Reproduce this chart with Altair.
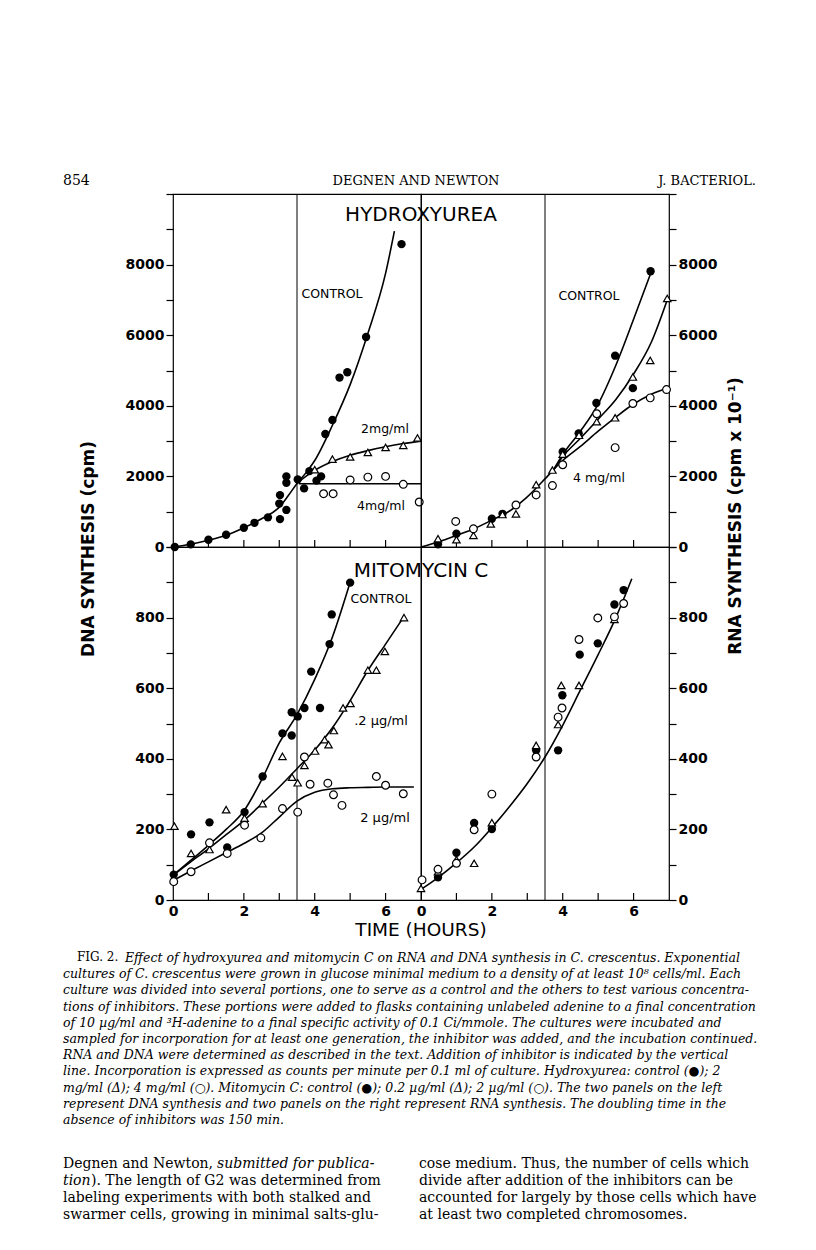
import altair as alt
import pandas as pd

# ---------------- data ----------------
tick_hours = [1, 2, 3, 4, 5, 6]
inhibitor_added = [3.5]
x_label_values = [0, 2, 4, 6]
top_axis_values = [0, 1000, 2000, 3000, 4000, 5000, 6000, 7000, 8000, 9000, 10000]
bottom_axis_values = [0, 100, 200, 300, 400, 500, 600, 700, 800, 900, 1000]

# Hydroxyurea, DNA synthesis (top left)
hu_dna_ctrl_t = [0.05, 0.5, 1.0, 1.5, 2.0, 2.3, 2.68, 3.02, 3.0, 3.02, 3.2, 3.2, 3.2, 3.52, 3.7, 3.85, 4.05, 4.18, 4.3, 4.5, 4.7, 4.92, 5.45, 6.45]
hu_dna_ctrl_v = [0, 75, 207, 347, 545, 685, 840, 790, 1230, 1470, 1050, 1820, 2000, 1915, 1660, 2150, 1880, 2000, 3200, 3600, 4800, 4950, 5950, 8580]
hu_dna_2mg_t = [4.0, 4.5, 5.0, 5.5, 6.0, 6.5, 6.9]
hu_dna_2mg_v = [2190, 2490, 2550, 2680, 2820, 2880, 3090]
hu_dna_4mg_t = [4.25, 4.52, 5.0, 5.5, 6.0, 6.5, 6.95]
hu_dna_4mg_v = [1510, 1510, 1900, 1980, 2000, 1775, 1275]
hu_dna_ctrl_curve_t = [0, 0.5, 1, 1.5, 2, 2.5, 3, 3.25, 3.5, 3.75, 4, 4.5, 5, 5.5, 6, 6.25]
hu_dna_ctrl_curve_v = [0, 80, 190, 330, 545, 800, 1130, 1450, 1800, 2100, 2450, 3450, 4600, 6050, 7750, 8950]
hu_dna_2mg_curve_t = [3.5, 3.75, 4, 4.5, 5, 5.5, 6, 6.5, 7]
hu_dna_2mg_curve_v = [1800, 2000, 2170, 2420, 2600, 2730, 2840, 2930, 3000]
hu_dna_4mg_curve_t = [3.55, 5, 7]
hu_dna_4mg_curve_v = [1790, 1790, 1790]

# Hydroxyurea, RNA synthesis (top right)
hu_rna_ctrl_t = [0.48, 1.0, 2.0, 2.3, 4.0, 4.45, 4.95, 5.48, 5.98, 6.48]
hu_rna_ctrl_v = [75, 375, 800, 940, 2700, 3220, 4080, 5420, 4500, 7810]
hu_rna_2mg_t = [0.48, 1.0, 1.48, 1.97, 2.3, 2.68, 3.25, 3.71, 4.0, 4.46, 4.96, 5.48, 5.98, 6.47, 6.95]
hu_rna_2mg_v = [235, 205, 330, 655, 920, 940, 1765, 2180, 2630, 3165, 3550, 3660, 4815, 5285, 7040]
hu_rna_4mg_t = [0.98, 1.48, 2.68, 3.25, 3.71, 4.0, 4.96, 5.48, 5.98, 6.47, 6.93]
hu_rna_4mg_v = [725, 515, 1190, 1475, 1740, 2330, 3775, 2815, 4065, 4225, 4460]
hu_rna_common_curve_t = [0, 0.5, 1, 1.5, 2, 2.5, 3, 3.5, 3.75]
hu_rna_common_curve_v = [0, 150, 330, 520, 760, 1020, 1420, 1930, 2200]
hu_rna_ctrl_curve_t = [3.75, 4, 4.5, 5, 5.5, 6, 6.5]
hu_rna_ctrl_curve_v = [2200, 2620, 3280, 4050, 5150, 6450, 7800]
hu_rna_2mg_curve_t = [3.75, 4, 4.5, 5, 5.5, 6, 6.5, 6.95]
hu_rna_2mg_curve_v = [2200, 2560, 3080, 3620, 4180, 4900, 5800, 7000]
hu_rna_4mg_curve_t = [3.75, 4, 4.5, 5, 5.5, 6, 6.5, 7]
hu_rna_4mg_curve_v = [2200, 2450, 2850, 3280, 3680, 4050, 4330, 4520]

# Mitomycin C, DNA synthesis (bottom left)
mc_dna_ctrl_t = [0.02, 0.51, 1.03, 1.53, 2.02, 2.53, 3.09, 3.35, 3.35, 3.52, 3.71, 3.9, 4.15, 4.42, 4.48, 5.0]
mc_dna_ctrl_v = [72, 186, 220, 149, 249, 350, 472, 466, 532, 520, 544, 647, 544, 725, 809, 899]
mc_dna_02_t = [0.04, 0.51, 1.03, 1.5, 2.02, 2.53, 3.09, 3.36, 3.52, 3.71, 4.01, 4.28, 4.39, 4.54, 4.8, 5.01, 5.5, 5.74, 5.98, 6.52]
mc_dna_02_v = [209, 132, 143, 256, 232, 273, 407, 348, 332, 381, 422, 454, 440, 480, 544, 557, 651, 651, 704, 800]
mc_dna_2_t = [0.02, 0.51, 1.03, 1.53, 2.02, 2.48, 3.09, 3.52, 3.71, 3.87, 4.37, 4.53, 4.77, 5.74, 6.0, 6.5]
mc_dna_2_v = [52, 80, 162, 132, 212, 176, 259, 249, 405, 328, 331, 298, 268, 350, 325, 301]
mc_dna_ctrl_curve_t = [0, 0.5, 1, 1.5, 2, 2.5, 3, 3.5, 4, 4.5, 5]
mc_dna_ctrl_curve_v = [70, 112, 155, 200, 252, 340, 445, 525, 625, 745, 900]
mc_dna_02_curve_t = [0, 0.5, 1, 1.5, 2, 2.5, 3, 3.5, 4, 4.5, 5, 5.5, 6, 6.5]
mc_dna_02_curve_v = [70, 108, 145, 185, 225, 272, 320, 372, 425, 488, 565, 650, 725, 800]
mc_dna_2_curve_t = [0, 0.5, 1, 1.5, 2, 2.5, 3, 3.5, 4, 4.5, 5, 5.5, 6, 6.8]
mc_dna_2_curve_v = [55, 82, 108, 134, 160, 190, 235, 280, 305, 315, 318, 319, 320, 320]

# Mitomycin C, RNA synthesis (bottom right)
mc_rna_ctrl_t = [0.48, 1.0, 1.5, 2.0, 3.25, 3.87, 3.99, 4.48, 4.99, 5.46, 5.72]
mc_rna_ctrl_v = [64, 134, 218, 201, 424, 424, 580, 695, 727, 837, 878]
mc_rna_02_t = [0.0, 0.48, 1.0, 1.5, 2.0, 3.25, 3.87, 3.96, 4.46, 5.46]
mc_rna_02_v = [33, 80, 114, 104, 219, 438, 497, 608, 608, 795]
mc_rna_2_t = [0.03, 0.48, 1.0, 1.5, 2.0, 3.25, 3.87, 3.98, 4.46, 4.99, 5.46, 5.72]
mc_rna_2_v = [57, 87, 104, 199, 300, 405, 518, 544, 738, 799, 802, 840]
mc_rna_curve_t = [0, 0.5, 1, 1.5, 2, 2.5, 3, 3.5, 4, 4.5, 5, 5.5, 5.95]
mc_rna_curve_v = [30, 65, 105, 150, 205, 265, 330, 405, 495, 595, 695, 800, 910]

header_left = "854"
header_mid = "DEGNEN AND NEWTON"
header_right = "J. BACTERIOL."
caption_fig = "FIG. 2."
caption_first = "Effect of hydroxyurea and mitomycin C on RNA and DNA synthesis in C. crescentus. Exponential"
caption_lines = [
    "cultures of C. crescentus were grown in glucose minimal medium to a density of at least 10⁸ cells/ml. Each",
    "culture was divided into several portions, one to serve as a control and the others to test various concentra-",
    "tions of inhibitors. These portions were added to flasks containing unlabeled adenine to a final concentration",
    "of 10 µg/ml and ³H-adenine to a final specific activity of 0.1 Ci/mmole. The cultures were incubated and",
    "sampled for incorporation for at least one generation, the inhibitor was added, and the incubation continued.",
    "RNA and DNA were determined as described in the text. Addition of inhibitor is indicated by the vertical",
    "line. Incorporation is expressed as counts per minute per 0.1 ml of culture. Hydroxyurea: control (●); 2",
    "mg/ml (Δ); 4 mg/ml (○). Mitomycin C: control (●); 0.2 µg/ml (Δ); 2 µg/ml (○). The two panels on the left",
    "represent DNA synthesis and two panels on the right represent RNA synthesis. The doubling time in the",
    "absence of inhibitors was 150 min.",
]
body_l1_roman = "Degnen and Newton,"
body_l1_italic = "submitted for publica-"
body_l2_italic = "tion"
body_l2_roman = "). The length of G2 was determined from"
body_left_rest = ["labeling experiments with both stalked and", "swarmer cells, growing in minimal salts-glu-"]
body_right = [
    "cose medium. Thus, the number of cells which",
    "divide after addition of the inhibitors can be",
    "accounted for largely by those cells which have",
    "at least two completed chromosomes.",
]

# ---------------- helpers ----------------
W, H = 248, 353
SANS = "DejaVu Sans"
SERIF = "DejaVu Serif"
dummy = pd.DataFrame({"k": [0]})
xs = alt.Scale(domain=[0, 7], nice=False, zero=False)


def note(text, x, y, size=12, align="center", baseline="middle", font=SANS,
         weight="normal", style="normal", angle=None, line_height=None):
    kw = dict(text=text, align=align, baseline=baseline, font=font, fontSize=size,
              fontWeight=weight, fontStyle=style, color="black")
    if angle is not None:
        kw["angle"] = angle
    if line_height is not None:
        kw["lineHeight"] = line_height
    return alt.Chart(dummy).mark_text(**kw).encode(x=alt.value(x), y=alt.value(y))


def panel(ymax, axis_vals, step, orient, show_x, filled, tri, hollow, curves, notes):
    ys = alt.Scale(domain=[0, ymax], nice=False, zero=True)
    yaxis = alt.Axis(
        values=axis_vals, orient=orient,
        labelExpr=f"datum.value % {step} == 0 && datum.value < {ymax} ? format(datum.value, 'd') : ''",
        tickSize=7, tickWidth=1.2, tickColor="black", domain=False, grid=False, title=None,
        labelFont=SANS, labelFontSize=14, labelFontWeight="bold", labelColor="black",
        labelPadding=2, labelOverlap=False)
    if show_x:
        xaxis = alt.Axis(values=x_label_values, tickSize=0, domain=False, grid=False, title=None,
                         labelFont=SANS, labelFontSize=14, labelFontWeight="bold",
                         labelColor="black", labelPadding=4, labelFlush=False, labelOverlap=False)
    else:
        xaxis = None

    def X():
        return alt.X("t:Q", scale=xs, axis=xaxis)

    def Y():
        return alt.Y("v:Q", scale=ys, axis=yaxis)

    layers = [
        alt.Chart(pd.DataFrame({"t": inhibitor_added})).mark_rule(color="black", strokeWidth=1)
        .encode(x=X(), y=alt.value(0), y2=alt.value(H)),
        alt.Chart(pd.DataFrame({"t": tick_hours})).mark_rule(color="black", strokeWidth=1.2)
        .encode(x=X(), y=alt.value(H), y2=alt.value(H - 7)),
    ]
    for t, v in curves:
        layers.append(
            alt.Chart(pd.DataFrame({"t": t, "v": v}))
            .mark_line(color="black", strokeWidth=1.6, interpolate="monotone")
            .encode(x=X(), y=Y()))
    if filled:
        layers.append(
            alt.Chart(pd.DataFrame({"t": filled[0], "v": filled[1]}))
            .mark_point(shape="circle", filled=True, color="black", size=70, opacity=1)
            .encode(x=X(), y=Y()))
    if tri:
        layers.append(
            alt.Chart(pd.DataFrame({"t": tri[0], "v": tri[1]}))
            .mark_point(shape="triangle-up", fill="white", fillOpacity=1, stroke="black",
                        strokeWidth=1.2, size=55, opacity=1)
            .encode(x=X(), y=Y()))
    if hollow:
        layers.append(
            alt.Chart(pd.DataFrame({"t": hollow[0], "v": hollow[1]}))
            .mark_point(shape="circle", fill="white", fillOpacity=1, stroke="black",
                        strokeWidth=1.2, size=60, opacity=1)
            .encode(x=X(), y=Y()))
    layers.extend(notes)
    return alt.layer(*layers).properties(width=W, height=H)


# ---------------- panels ----------------
anchor = alt.Chart(dummy).mark_rule(opacity=0, strokeWidth=1).encode(
    x=alt.value(-112), x2=alt.value(-110), y=alt.value(-23))

tl = panel(
    10000, top_axis_values, 2000, "left", False,
    (hu_dna_ctrl_t, hu_dna_ctrl_v), (hu_dna_2mg_t, hu_dna_2mg_v), (hu_dna_4mg_t, hu_dna_4mg_v),
    [(hu_dna_ctrl_curve_t, hu_dna_ctrl_curve_v), (hu_dna_2mg_curve_t, hu_dna_2mg_curve_v),
     (hu_dna_4mg_curve_t, hu_dna_4mg_curve_v)],
    [
        anchor,
        note(header_left, -110, -13, size=14, align="left", font=SERIF),
        note(header_mid, 243, -13, size=13, font=SERIF),
        note(header_right, 583, -13, size=13, align="right", font=SERIF),
        note("HYDROXYUREA", 248, 21, size=20),
        note("CONTROL", 159, 100, size=12.5),
        note("2mg/ml", 212, 235, size=12.5),
        note("4mg/ml", 208, 312, size=12.5),
        note("DNA SYNTHESIS (cpm)", -84, 355, size=17, weight="bold", angle=270),
    ])

tr = panel(
    10000, top_axis_values, 2000, "right", False,
    (hu_rna_ctrl_t, hu_rna_ctrl_v), (hu_rna_2mg_t, hu_rna_2mg_v), (hu_rna_4mg_t, hu_rna_4mg_v),
    [(hu_rna_common_curve_t, hu_rna_common_curve_v), (hu_rna_ctrl_curve_t, hu_rna_ctrl_curve_v),
     (hu_rna_2mg_curve_t, hu_rna_2mg_curve_v), (hu_rna_4mg_curve_t, hu_rna_4mg_curve_v)],
    [
        note("CONTROL", 168, 102, size=12.5),
        note("4  mg/ml", 178, 284, size=12.5),
        note("RNA SYNTHESIS (cpm x 10⁻¹)", 315, 322, size=17, weight="bold", angle=270),
    ])

bl = panel(
    1000, bottom_axis_values, 200, "left", True,
    (mc_dna_ctrl_t, mc_dna_ctrl_v), (mc_dna_02_t, mc_dna_02_v), (mc_dna_2_t, mc_dna_2_v),
    [(mc_dna_ctrl_curve_t, mc_dna_ctrl_curve_v), (mc_dna_02_curve_t, mc_dna_02_curve_v),
     (mc_dna_2_curve_t, mc_dna_2_curve_v)],
    [
        note("MITOMYCIN   C", 248, 24, size=20),
        note("CONTROL", 208, 52, size=12.5),
        note(".2 µg/ml", 208, 174, size=13),
        note("2 µg/ml", 212, 271, size=13),
        note("TIME (HOURS)", 248, 383, size=18.5),
        note(caption_fig, -96, 405, size=12, align="left", baseline="top", font=SERIF),
        note(caption_first, -48, 405, size=12.5, align="left", baseline="top", font=SERIF, style="italic"),
        note(caption_lines, -110, 421.2, size=12.5, align="left", baseline="top", font=SERIF,
             style="italic", line_height=16.2),
        note(body_l1_roman, -110, 609.5, size=14, align="left", baseline="top", font=SERIF),
        note(body_l1_italic, 44, 609.5, size=14, align="left", baseline="top", font=SERIF, style="italic"),
        note(body_l2_italic, -110, 626.5, size=14, align="left", baseline="top", font=SERIF, style="italic"),
        note(body_l2_roman, -82, 626.5, size=14, align="left", baseline="top", font=SERIF),
        note(body_left_rest, -110, 643.5, size=14, align="left", baseline="top", font=SERIF, line_height=17),
        note(body_right, 246, 609.5, size=14, align="left", baseline="top", font=SERIF, line_height=17),
    ])

br = panel(
    1000, bottom_axis_values, 200, "right", True,
    (mc_rna_ctrl_t, mc_rna_ctrl_v), (mc_rna_02_t, mc_rna_02_v), (mc_rna_2_t, mc_rna_2_v),
    [(mc_rna_curve_t, mc_rna_curve_v)],
    [])

chart = (
    alt.concat(tl, tr, bl, br, columns=2, spacing=0, bounds="flush")
    .configure_view(stroke="black", strokeWidth=1.2)
    .properties(padding={"left": 52, "top": 162, "right": 10, "bottom": 10}, background="white")
)

chart.save("out.html", embed_options={"renderer": "svg", "actions": False})
